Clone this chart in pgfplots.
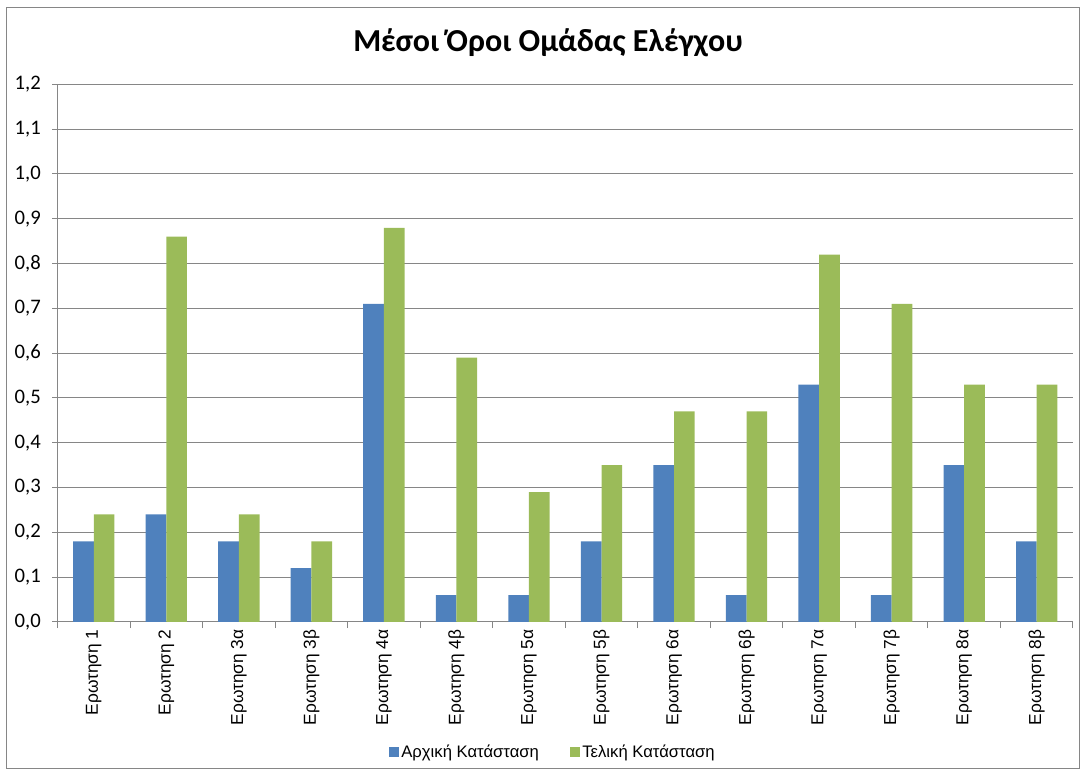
\documentclass[border=0pt]{standalone}
\usepackage{fontspec}
\setmainfont{Carlito}
\newfontfamily\arial{Liberation Sans}
\usepackage{pgfplots}
\pgfplotsset{compat=1.18}
\definecolor{xblue}{HTML}{4F81BD}
\definecolor{xgreen}{HTML}{9BBB59}
\definecolor{gridc}{HTML}{868686}
\begin{document}
\begin{tikzpicture}
\useasboundingbox (-43.125pt,-113.25pt) rectangle (769.875pt,466.5pt);
\draw[gridc, line width=0.75pt] (-37.875pt,-110.25pt) rectangle (766.125pt,460.5pt);
\begin{axis}[
  at={(0pt,0pt)}, anchor=south west,
  scale only axis, width=761.6pt, height=403.2pt,
  ybar=0pt, bar width=15.5pt,
  xmin=-0.5, xmax=13.5, ymin=0, ymax=1.2,
  axis x line*=bottom, axis y line*=left,
  axis line style={-, gridc, line width=0.75pt},
  xtick={0,...,13},
  xticklabels={Ερωτηση 1, Ερωτηση 2, Ερωτηση 3α, Ερωτηση 3β, Ερωτηση 4α, Ερωτηση 4β, Ερωτηση 5α, Ερωτηση 5β, Ερωτηση 6α, Ερωτηση 6β, Ερωτηση 7α, Ερωτηση 7β, Ερωτηση 8α, Ερωτηση 8β},
  x tick label style={rotate=90, anchor=east, font=\arial\fontsize{13}{15}\selectfont},
  xticklabel shift=-2pt,
  major x tick style={draw=none},
  minor xtick={-0.5,0.5,1.5,2.5,3.5,4.5,5.5,6.5,7.5,8.5,9.5,10.5,11.5,12.5,13.5},
  minor x tick style={gridc, line width=0.75pt},
  ytick={0,0.1,0.2,0.3,0.4,0.5,0.6,0.7,0.8,0.9,1.0,1.1,1.2},
  y tick style={gridc, line width=0.75pt},
  tick align=outside, xtick pos=bottom, ytick pos=left,
  major tick length=4pt, minor tick length=4.5pt,
  y tick label style={font=\fontsize{15.5}{18}\selectfont, xshift=-5pt},
  yticklabel style={/pgf/number format/.cd, fixed, fixed zerofill, precision=1, use comma, assume math mode=true},
  ymajorgrids, grid style={gridc, line width=0.75pt},
  legend style={at={(0.488,-0.2413)}, anchor=center, draw=none, fill=none,
    legend columns=2, font=\arial\fontsize{12.5}{15}\selectfont,
    /tikz/every even column/.append style={column sep=21pt}},
  legend image code/.code={\fill[#1] (0pt,-3.75pt) rectangle (7.5pt,3.75pt);},
]
\addplot[fill=xblue, draw=none] coordinates {
 (0,0.18) (1,0.24) (2,0.18) (3,0.12) (4,0.71) (5,0.06) (6,0.06)
 (7,0.18) (8,0.35) (9,0.06) (10,0.53) (11,0.06) (12,0.35) (13,0.18)};
\addplot[fill=xgreen, draw=none] coordinates {
 (0,0.24) (1,0.86) (2,0.24) (3,0.18) (4,0.88) (5,0.59) (6,0.29)
 (7,0.35) (8,0.47) (9,0.47) (10,0.82) (11,0.71) (12,0.53) (13,0.53)};
\legend{Αρχική Κατάσταση, Τελική Κατάσταση}
\end{axis}
\node[font=\bfseries\fontsize{24}{28}\selectfont, anchor=base] at (367.9pt,427.7pt) {Μέσοι Όροι Ομάδας Ελέγχου};
\end{tikzpicture}
\end{document}
